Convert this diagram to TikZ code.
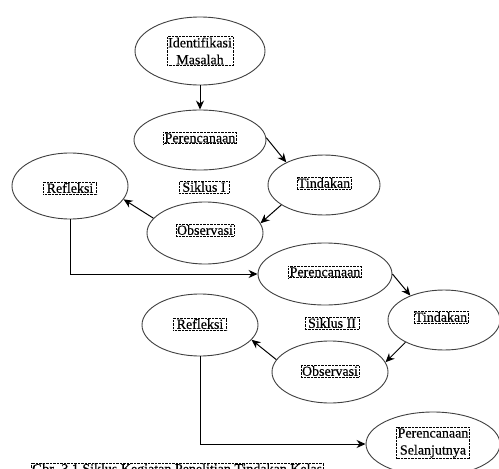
\documentclass[tikz,border=0pt]{standalone}
\usepackage{fontspec}
\setmainfont{Liberation Serif}
\newfontfamily\lblfont[FakeBold=0.4]{Liberation Serif}
\usetikzlibrary{shapes.geometric,arrows.meta}
\tikzset{
  ell/.style={draw=black!75, line width=0.9pt, ellipse, inner sep=0pt},
  lbl/.style={draw=black, densely dotted, line width=0.4pt, inner sep=1pt,
    font=\lblfont\fontsize{14}{17}\selectfont, align=center, text=black},
  arr/.style={line width=1pt, -{Stealth[length=9pt,width=8pt]}},
}
\begin{document}
\begin{tikzpicture}[x=1pt,y=-1pt]
\useasboundingbox (0,0) rectangle (499,469);
\clip (0,0) rectangle (499,469);
\fill[white] (0,0) rectangle (499,469);
% ellipses
\node[ell, minimum width=130pt, minimum height=68pt] (id) at (200,51) {};
\node[ell, minimum width=132pt, minimum height=60pt] (p1) at (200,140) {};
\node[ell, minimum width=112pt, minimum height=60pt] (t1) at (324,185) {};
\node[ell, minimum width=116pt, minimum height=66pt] (r1) at (70,186) {};
\node[ell, minimum width=116pt, minimum height=62pt] (o1) at (205,233) {};
\node[ell, minimum width=134pt, minimum height=62pt] (p2) at (325,274) {};
\node[ell, minimum width=112pt, minimum height=60pt] (t2) at (444,320) {};
\node[ell, minimum width=116pt, minimum height=62pt] (r2) at (200,325) {};
\node[ell, minimum width=116pt, minimum height=62pt] (o2) at (330,372) {};
\node[ell, minimum width=134pt, minimum height=64pt] (ps) at (433,444) {};
% labels
\node[lbl] (idl) at (200,51) {Identifikasi\\Masalah};
\node[lbl] (p1l) at (200,138) {Perencanaan};
\node[lbl] (t1l) at (324,183) {Tindakan};
\node[lbl] (r1l) at (70,188) {\,Refleksi\,};
\node[lbl] (s1l) at (204,187) {\,Siklus I\,};
\node[lbl] (o1l) at (205,230) {Observasi};
\node[lbl] (p2l) at (325,272) {Perencanaan};
\node[lbl] (t2l) at (441,317) {Tindakan};
\node[lbl] (r2l) at (200,324) {\,Refleksi\,};
\node[lbl] (s2l) at (332,323) {\,Siklus II\,};
\node[lbl] (o2l) at (330,371) {Observasi};
\node[lbl] (psl) at (433,443) {Perencanaan\\Selanjutnya};
\node[lbl, anchor=north west] (cap) at (31,462.5) {Gbr. 3.1 Siklus Kegiatan Penelitian Tindakan Kelas};
% connectors
\draw[arr] (id.south) -- (p1.north);
\draw[arr] (p1.2) -- (t1.149);
\draw[arr] (t1.205) -- (o1.10);
\draw[arr] (o1.164) -- (r1.-14);
\draw[arr] (r1.south) -- (r1.south |- p2.west) -- (p2.west);
\draw[arr] (p2.0) -- (t2.144);
\draw[arr] (t2.210) -- (o2.10);
\draw[arr] (o2.167) -- (r2.-16);
\draw[arr] (r2.south) -- (r2.south |- ps.west) -- (ps.west);
\end{tikzpicture}
\end{document}
